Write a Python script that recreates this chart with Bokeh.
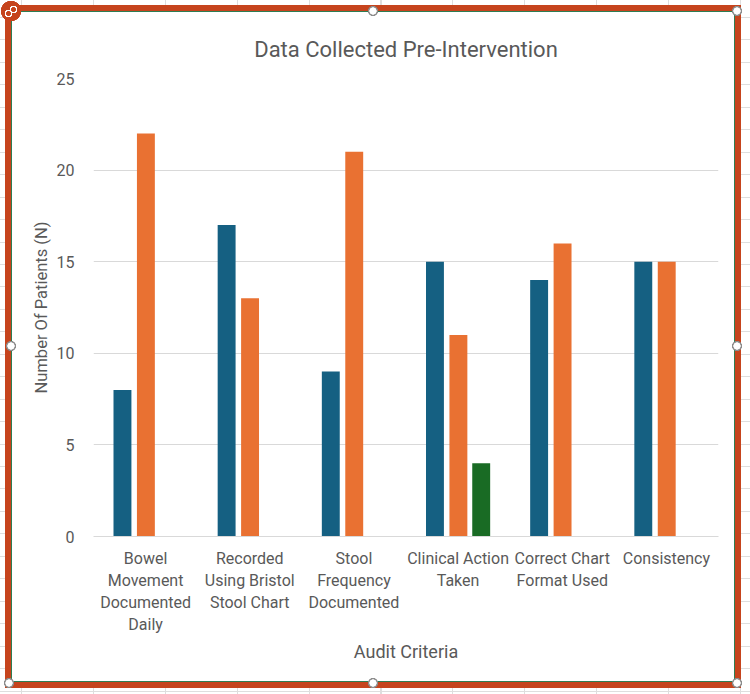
from bokeh.plotting import figure
from bokeh.models import FactorRange, Range1d, FixedTicker, ColumnDataSource, InlineStyleSheet
from bokeh.transform import dodge
from bokeh.embed import file_html
from bokeh.resources import INLINE

# Audit criteria (category labels, wrapped as shown on the axis)
categories = [
    "Bowel\nMovement\nDocumented\nDaily",
    "Recorded\nUsing Bristol\nStool Chart",
    "Stool\nFrequency\nDocumented",
    "Clinical Action\nTaken",
    "Correct Chart\nFormat Used",
    "Consistency",
]
# Patient counts for the three series
series_1 = [8, 17, 9, 15, 14, 15]
series_2 = [22, 13, 21, 11, 16, 15]
series_3 = [0, 0, 0, 4, 0, 0]
y_ticks = [0, 5, 10, 15, 20, 25]

FONT = "Roboto"
TEXT = "#595959"
BLUE, ORANGE, GREEN = "#156082", "#E97132", "#196B24"
FRAME_RED = "#C6441D"

source = ColumnDataSource(dict(cat=categories, s1=series_1, s2=series_2, s3=series_3))

p = figure(
    width=724, height=671,
    x_range=FactorRange(*categories, range_padding=0),
    y_range=Range1d(0, 25),
    output_backend="svg", toolbar_location=None,
    min_border_left=81, min_border_right=18, min_border_top=66, min_border_bottom=147,
    title="Data Collected Pre-Intervention",
)
p.outline_line_color = None
p.background_fill_color = "white"
p.border_fill_color = "white"

p.title.align = "center"
p.title.vertical_align = "top"
p.title.text_font = FONT
p.title.text_font_size = "22px"
p.title.text_font_style = "normal"
p.title.text_color = TEXT
p.title.standoff = 30

bar_w = 0.172
for col, off, color in (("s1", -0.222, BLUE), ("s2", 0.003, ORANGE), ("s3", 0.222, GREEN)):
    p.vbar(x=dodge("cat", off, range=p.x_range), top=col, bottom=0, width=bar_w,
           source=source, fill_color=color, line_color=None)

# y axis
p.yaxis.ticker = FixedTicker(ticks=y_ticks)
p.yaxis.axis_line_color = None
p.yaxis.major_tick_line_color = None
p.yaxis.minor_tick_line_color = None
p.yaxis.major_label_text_font = FONT
p.yaxis.major_label_text_font_size = "16px"
p.yaxis.major_label_text_color = TEXT
p.yaxis.major_label_standoff = 13
p.yaxis.axis_label = "Number Of Patients (N)"
p.yaxis.axis_label_text_font = FONT
p.yaxis.axis_label_text_font_size = "16.5px"
p.yaxis.axis_label_text_font_style = "normal"
p.yaxis.axis_label_text_color = TEXT
p.yaxis.axis_label_standoff = 3

# x axis
p.xaxis.axis_line_color = "#D9D9D9"
p.xaxis.major_tick_line_color = None
p.xaxis.minor_tick_line_color = None
p.xaxis.major_label_text_font = FONT
p.xaxis.major_label_text_font_size = "16px"
p.xaxis.major_label_text_color = TEXT
p.xaxis.major_label_text_line_height = 1.17
p.xaxis.major_label_standoff = 6
p.xaxis.axis_label = "Audit Criteria"
p.xaxis.axis_label_text_font = FONT
p.xaxis.axis_label_text_font_size = "18px"
p.xaxis.axis_label_text_font_style = "normal"
p.xaxis.axis_label_text_color = TEXT
p.xaxis.axis_label_standoff = 4

p.xgrid.grid_line_color = None
p.ygrid.grid_line_color = "#D9D9D9"
p.ygrid.grid_line_width = 1

# selected-object frame: thin green border inside a thick red outline
p.styles = {
    "position": "relative",
    "background": "white",
    "margin-left": "11px",
    "margin-top": "11px",
    "border": "1px solid #2E7D52",
    "outline": f"6px solid {FRAME_RED}",
}

# resize handles and the link badge, painted over the frame
handles = [(373, 11), (737, 11), (11, 346), (737, 346), (9, 683), (373, 683), (737, 683)]
layers = [
    "radial-gradient(circle at 8.5px 13.5px, transparent 0 2.2px, white 2.6px 3.6px, transparent 4px)",
    "radial-gradient(circle at 13.5px 9.5px, transparent 0 2.2px, white 2.6px 3.6px, transparent 4px)",
    f"radial-gradient(circle at 11px 11px, {FRAME_RED} 0 10px, transparent 10.5px)",
]
for hx, hy in handles:
    layers.append(
        f"radial-gradient(circle at {hx}px {hy}px, white 0 3.4px, #8C8C8C 3.9px 4.8px, transparent 5.3px)"
    )
css = """
:host::after {
  content: "";
  position: absolute;
  left: -12px;
  top: -12px;
  width: 750px;
  height: 694px;
  pointer-events: none;
  z-index: 10;
  background: %s;
}
:host::before {
  content: "";
  position: absolute;
  left: -12px;
  top: -12px;
  width: 750px;
  height: 694px;
  pointer-events: none;
  z-index: -1;
  background-image:
    repeating-linear-gradient(90deg, #DEDEDE 0 1px, transparent 1px 71.9px),
    repeating-linear-gradient(180deg, #DEDEDE 0 1px, transparent 1px 22.45px);
  background-position: 21px 0, 0 17px;
}
""" % ",\n    ".join(layers)
p.stylesheets = [InlineStyleSheet(css=css)]

open("out.html", "w").write(file_html(p, INLINE))
